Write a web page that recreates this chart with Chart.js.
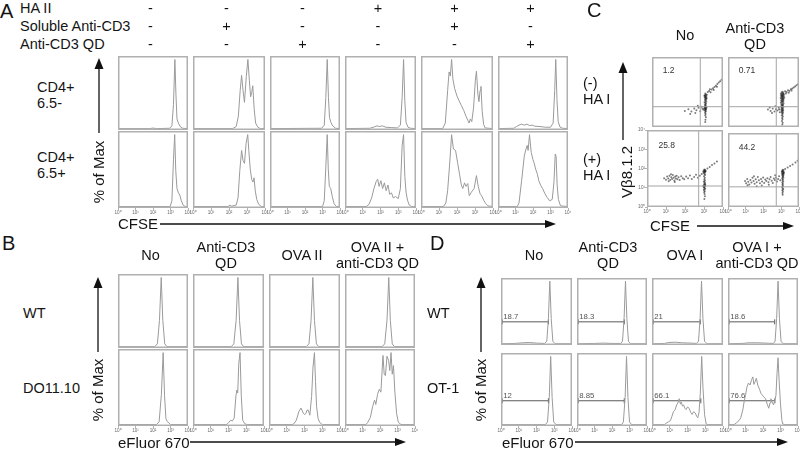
<!DOCTYPE html>
<html><head><meta charset="utf-8">
<script src="https://cdn.jsdelivr.net/npm/chart.js"></script>
<style>
html,body{margin:0;padding:0;background:#fff}
#fig{position:relative;width:800px;height:449px;overflow:hidden;font-family:"Liberation Sans",Arial,Helvetica,sans-serif;color:#141414}
.t{position:absolute;white-space:nowrap;font-size:14.5px;line-height:16px;transform:translate(-50%,-50%);text-align:center}
.l{transform:translate(0,-50%);text-align:left}
.big{font-size:20px;line-height:20px}
.ax{font-size:15px}
.rot{transform:translate(-50%,-50%) rotate(-90deg)}
canvas{position:absolute}
svg{position:absolute;left:0;top:0}
</style></head><body><div id="fig"></div>
<script>
// ---------------- DATA (x in log decades, y in % of max) ----------------
const decadeTicks = ['10\u2070','10\u00b9','10\u00b2','10\u00b3','10\u2074'];

// Panel A
const A_headers = ['HA II','Soluble Anti-CD3','Anti-CD3 QD'];
const A_signs = [
  ['-','-','-','+','+','+'],
  ['-','+','-','-','+','-'],
  ['-','-','+','-','-','+']
];
const A_rows = ['CD4+\n6.5-','CD4+\n6.5+'];
const A_cd4_65neg = [
  [[0,0],[1.8,0],[2.0,0.8],[2.2,0],[2.95,0.5],[3.08,4],[3.17,35],[3.25,100],[3.31,50],[3.37,14],[3.45,8],[3.55,3],[3.7,0.5],[4,0]],
  [[0,0],[2.2,0],[2.4,3],[2.52,18],[2.62,55],[2.7,77],[2.78,55],[2.86,38],[2.96,75],[3.05,100],[3.13,70],[3.2,46],[3.26,52],[3.32,62],[3.4,28],[3.48,8],[3.6,2],[3.75,0],[4,0]],
  [[0,0],[2.95,0.5],[3.1,5],[3.19,45],[3.27,100],[3.34,45],[3.4,16],[3.48,9],[3.58,4],[3.75,0.5],[4,0]],
  [[0,0],[1.4,0.5],[1.65,2.5],[1.8,4],[1.95,3],[2.1,4],[2.3,2],[2.6,1.5],[2.95,1],[3.12,5],[3.22,45],[3.3,100],[3.37,40],[3.44,9],[3.55,2],[3.7,0.5],[4,0]],
  [[0,0],[1.2,0],[1.35,8],[1.48,55],[1.56,82],[1.63,76],[1.7,100],[1.77,72],[1.87,58],[2.0,47],[2.12,40],[2.25,33],[2.38,26],[2.5,18],[2.6,12],[2.67,8],[2.74,14],[2.82,10],[2.92,30],[3.02,70],[3.08,83],[3.16,50],[3.22,39],[3.28,55],[3.33,61],[3.4,25],[3.48,6],[3.56,1],[4,0]],
  [[0,0],[0.9,0.5],[1.05,3],[1.2,5],[1.35,6.5],[1.5,5],[1.65,6.5],[1.8,4.5],[1.95,5],[2.1,3.5],[2.4,3],[2.7,2],[3.0,2],[3.15,8],[3.24,55],[3.3,100],[3.37,42],[3.44,10],[3.55,2],[3.7,0.5],[4,0]]
];
const A_cd4_65pos = [
  [[0,0],[2.98,0],[3.08,8],[3.17,65],[3.24,100],[3.3,50],[3.37,25],[3.45,19],[3.53,16],[3.62,8],[3.72,2],[3.85,0],[4,0]],
  [[0,0],[1.95,0],[2.05,2],[2.15,0.5],[2.4,2],[2.5,12],[2.6,50],[2.7,78],[2.78,64],[2.86,60],[2.95,88],[3.04,100],[3.1,78],[3.18,52],[3.26,38],[3.33,34],[3.39,40],[3.46,22],[3.54,10],[3.65,3],[3.8,0],[4,0]],
  [[0,0],[3.0,0],[3.1,8],[3.19,55],[3.27,100],[3.33,52],[3.39,28],[3.47,25],[3.56,14],[3.66,4],[3.8,0],[4,0]],
  [[0,0],[1.2,0],[1.35,3],[1.5,12],[1.63,25],[1.76,35],[1.84,38],[1.92,28],[2.02,36],[2.12,25],[2.22,33],[2.32,22],[2.42,30],[2.52,17],[2.62,19],[2.72,12],[2.85,14],[3.0,11],[3.12,25],[3.22,85],[3.3,100],[3.37,42],[3.44,20],[3.52,9],[3.62,2],[3.75,0],[4,0]],
  [[0,0],[1.25,0],[1.38,5],[1.48,22],[1.6,62],[1.7,100],[1.8,80],[1.92,78],[2.04,60],[2.14,45],[2.24,30],[2.32,25],[2.42,33],[2.5,28],[2.6,32],[2.68,15],[2.8,20],[2.95,25],[3.08,43],[3.18,28],[3.28,18],[3.37,15],[3.5,8],[3.6,4],[3.72,1],[4,0]],
  [[0,0],[1.1,0],[1.2,5],[1.35,36],[1.5,70],[1.6,80],[1.67,85],[1.72,78],[1.8,100],[1.9,75],[2.0,65],[2.06,61],[2.15,52],[2.25,45],[2.33,36],[2.45,29],[2.55,25],[2.68,18],[2.8,13],[2.95,8],[3.1,10],[3.2,35],[3.27,73],[3.32,70],[3.38,30],[3.45,10],[3.57,1],[4,0]]
];

// Panel B
const B_cols = ['No','Anti-CD3\nQD','OVA II','OVA II +\nanti-CD3 QD'];
const B_rows = ['WT','DO11.10'];
const B_wt = [
  [[0,0],[2.1,0],[2.25,4],[2.37,38],[2.47,100],[2.56,38],[2.67,4],[2.8,0],[4,0]],
  [[0,0],[2.15,0],[2.3,4],[2.43,38],[2.53,100],[2.62,38],[2.73,4],[2.85,0],[4,0]],
  [[0,0],[2.1,0],[2.25,4],[2.37,38],[2.47,100],[2.56,38],[2.67,4],[2.8,0],[4,0]],
  [[0,0],[2.12,0],[2.27,4],[2.4,38],[2.5,100],[2.59,38],[2.7,4],[2.82,0],[4,0]]
];
const B_do1110 = [
  [[0,0],[2.2,0],[2.35,4],[2.48,42],[2.58,100],[2.66,40],[2.74,8],[2.82,4],[2.92,2],[3.0,0],[4,0]],
  [[0,0],[1.9,0],[2.02,3],[2.12,6],[2.22,5],[2.32,9],[2.42,40],[2.47,48],[2.52,44],[2.58,85],[2.65,100],[2.72,40],[2.8,6],[2.92,1],[3.05,0],[4,0]],
  [[0,0],[1.3,0],[1.4,1],[1.54,6],[1.68,18],[1.8,23],[1.93,16],[2.0,14],[2.07,15],[2.14,20],[2.21,20],[2.3,13],[2.4,39],[2.48,80],[2.56,100],[2.62,60],[2.68,25],[2.77,8],[2.86,3],[3.0,0],[4,0]],
  [[0,0],[1.2,0],[1.3,3],[1.45,10],[1.58,25],[1.69,34],[1.76,28],[1.86,42],[1.96,49],[2.05,45],[2.17,96],[2.24,70],[2.31,68],[2.4,95],[2.49,89],[2.56,75],[2.63,100],[2.7,70],[2.77,82],[2.85,45],[2.95,15],[3.05,3],[3.2,0],[4,0]]
];

// Panel C (dot plots: x = CFSE decades, y = Vb8.1.2 decades)
const C_cols = ['No','Anti-CD3\nQD'];
const C_rows = ['(-)\nHA I','(+)\nHA I'];
const C_noHA_no = [[3.00,1.92],[3.04,1.86],[2.98,1.82],[3.02,1.78],[3.06,1.74],[2.97,1.70],[3.03,1.66],[3.00,1.62],[3.05,1.58],[2.99,1.54],[3.02,1.50],[3.06,1.46],[2.96,1.42],[3.01,1.38],[3.04,1.33],[2.98,1.28],[3.02,1.24],[3.00,1.20],[3.05,1.16],[2.97,1.12],[3.02,1.08],[3.00,1.04],[3.04,1.00],[2.98,0.96],[3.01,0.92],[3.03,0.88],[2.99,0.82],[3.02,0.74],[3.00,0.66],[3.04,0.56],[3.01,0.42],[3.00,0.28],[3.08,1.64],[2.94,1.06],[3.07,1.10],[2.95,1.78],[3.09,1.84],[3.01,1.72],[3.03,1.02],[2.99,1.16],
  [3.14,2.00],[3.22,2.06],[3.30,1.98],[3.36,2.14],[3.44,2.22],[3.52,2.28],[3.60,2.36],[3.68,2.46],[3.76,2.55],[3.84,2.62],[3.92,2.70],[3.48,2.12],[3.66,2.30],[3.26,2.16],
  [1.85,0.92],[2.05,1.02],[2.22,0.88],[2.38,1.06],[2.50,0.96],[2.62,1.10],[2.72,0.90],[2.84,1.04],[2.58,1.22],[2.44,0.80],[2.80,1.16],[2.15,0.74],[2.90,0.98]];
const C_noHA_qd = [[3.08,2.02],[3.02,1.98],[3.12,1.95],[3.05,1.92],[2.98,1.90],[3.10,1.88],[3.15,1.86],[3.03,1.84],[3.08,1.82],[2.99,1.80],[3.13,1.78],[3.06,1.76],[3.01,1.74],[3.10,1.72],[3.17,1.70],[3.04,1.68],[2.97,1.66],[3.09,1.64],[3.14,1.62],[3.02,1.60],[3.07,1.58],[3.11,1.55],[2.99,1.52],[3.05,1.50],[3.12,1.47],[3.03,1.44],[3.08,1.41],[2.98,1.38],[3.13,1.35],[3.06,1.32],[3.01,1.29],[3.10,1.26],[3.04,1.23],[3.08,1.20],[2.99,1.17],[3.12,1.14],[3.05,1.11],[3.02,1.08],[3.09,1.05],[3.06,1.02],[3.00,0.99],[3.11,0.96],[3.04,0.93],[3.08,0.90],[3.02,0.86],[3.10,0.82],[3.05,0.78],[3.07,0.72],[3.03,0.66],[3.09,0.60],[3.05,0.52],[3.07,0.44],[3.04,0.34],[3.08,0.24],[3.06,0.14],
  [3.22,2.04],[3.30,2.00],[3.38,2.10],[3.46,2.06],[3.54,2.16],[3.62,2.20],[3.70,2.26],[3.78,2.32],[3.86,2.38],[3.94,2.44],[3.42,1.96],[3.58,2.08],[3.26,1.92],
  [2.25,1.00],[2.40,0.92],[2.52,1.06],[2.62,0.88],[2.70,1.02],[2.78,0.94],[2.86,1.10],[2.92,0.84],[2.66,1.18],[2.48,0.80],[2.88,1.00],[2.35,1.12]];
const C_HA_no = [[3.02,1.95],[3.06,1.92],[2.99,1.89],[3.04,1.86],[3.08,1.84],[3.01,1.82],[3.05,1.79],[2.98,1.76],[3.03,1.72],[3.06,1.66],[3.00,1.60],[3.04,1.52],[3.02,1.44],[3.05,1.38],[2.99,1.32],[3.03,1.28],[3.06,1.24],[3.01,1.20],[3.04,1.16],[2.98,1.12],[3.05,1.08],[3.02,1.04],[3.00,1.00],[3.06,0.96],[3.03,0.92],[2.99,0.88],[3.04,0.82],[3.01,0.76],[3.03,0.68],[3.05,0.56],[3.02,0.42],[3.07,1.14],[2.97,1.06],[3.08,1.88],[2.96,1.84],
  [0.90,1.50],[1.00,1.42],[1.06,1.58],[1.12,1.48],[1.18,1.62],[1.22,1.40],[1.28,1.54],[1.32,1.46],[1.36,1.66],[1.40,1.52],[1.44,1.38],[1.48,1.58],[1.52,1.48],[1.56,1.62],[1.60,1.44],[1.66,1.54],[1.72,1.40],[1.80,1.60],[1.88,1.50],[1.96,1.44],[2.06,1.58],[2.16,1.50],[2.26,1.64],[2.36,1.46],[2.48,1.56],[2.58,1.68],[2.68,1.52],[2.78,1.62],[2.88,1.72],[1.26,1.70],[1.46,1.30],[1.14,1.34],
  [3.18,2.00],[3.30,2.08],[3.42,2.18],[3.55,2.26],[3.68,2.36]];
const C_HA_qd = [[3.08,2.02],[3.12,1.98],[3.05,1.95],[3.10,1.92],[3.14,1.89],[3.07,1.86],[3.11,1.83],[3.04,1.80],[3.09,1.77],[3.13,1.74],[3.06,1.71],[3.10,1.68],[3.08,1.64],[3.12,1.60],[3.05,1.56],[3.09,1.50],[3.07,1.44],[3.11,1.38],[3.06,1.32],[3.09,1.26],[3.07,1.20],[3.10,1.14],[3.05,1.08],[3.08,1.02],[3.11,0.96],[3.06,0.90],[3.09,0.84],[3.07,0.76],[3.08,0.66],[3.03,1.90],[3.15,1.84],
  [0.96,1.40],[1.02,1.28],[1.08,1.52],[1.14,1.36],[1.20,1.22],[1.26,1.46],[1.32,1.32],[1.38,1.58],[1.44,1.40],[1.50,1.26],[1.56,1.50],[1.62,1.34],[1.68,1.62],[1.74,1.44],[1.80,1.28],[1.86,1.52],[1.92,1.38],[1.98,1.60],[2.04,1.30],[2.10,1.48],[2.16,1.40],[2.22,1.56],[2.28,1.34],[2.34,1.50],[2.40,1.62],[2.46,1.42],[2.52,1.30],[2.58,1.54],[2.64,1.46],[2.70,1.60],[2.76,1.38],[2.82,1.52],[2.88,1.66],[2.94,1.44],[1.10,1.18],[1.46,1.66],[1.90,1.16],[2.30,1.20],[2.66,1.72],[1.62,1.12],
  [3.22,2.06],[3.36,2.14],[3.50,2.22],[3.64,2.30],[3.80,2.40],[3.92,2.50]];
const C_quadX = [2.72, 2.72, 2.72, 2.72];
const C_quadY = [1.16, 1.16, 1.09, 1.09];
const C_quadPct = ['1.2','0.71','25.8','44.2'];

// Panel D
const D_cols = ['No','Anti-CD3\nQD','OVA I','OVA I +\nanti-CD3 QD'];
const D_rows = ['WT','OT-1'];
const D_wt = [
  [[0,0],[0.8,0.5],[1.2,1.5],[1.6,2],[2.0,1],[2.45,0.5],[2.58,4],[2.67,40],[2.75,100],[2.83,40],[2.92,4],[3.05,0],[4,0]],
  [[0,0],[1.0,0.5],[1.5,1],[2.0,0.5],[2.5,0.5],[2.6,4],[2.69,40],[2.77,100],[2.85,40],[2.94,4],[3.07,0],[4,0]],
  [[0,0],[0.7,0.5],[0.95,2],[1.3,2.5],[1.7,1.5],[2.2,1],[2.5,0.5],[2.62,4],[2.71,40],[2.79,100],[2.87,40],[2.96,4],[3.1,0],[4,0]],
  [[0,0],[0.8,0.5],[1.2,1.5],[1.7,1.5],[2.3,0.8],[2.6,0.5],[2.69,4],[2.78,40],[2.86,100],[2.94,40],[3.03,4],[3.15,0],[4,0]]
];
const D_ot1 = [
  [[0,0],[2.5,0],[2.62,4],[2.72,40],[2.8,100],[2.88,40],[2.97,4],[3.1,0],[4,0]],
  [[0,0],[2.55,0],[2.65,4],[2.75,40],[2.83,100],[2.91,40],[3.0,4],[3.12,0],[4,0]],
  [[0,0],[0.7,0],[0.8,2],[0.92,4],[1.04,6],[1.12,12],[1.21,19],[1.3,22],[1.39,29],[1.46,32],[1.53,38],[1.6,30],[1.65,33],[1.72,27],[1.78,29],[1.85,24],[1.92,22],[2.0,26],[2.09,24],[2.18,18],[2.26,15],[2.35,19],[2.44,17],[2.52,12],[2.58,10],[2.65,18],[2.72,45],[2.8,100],[2.87,55],[2.96,15],[3.05,1],[3.15,0],[4,0]],
  [[0,0],[0.35,0],[0.5,3],[0.63,6],[0.73,10],[0.85,22],[0.93,35],[1.0,43],[1.08,55],[1.17,61],[1.26,58],[1.35,66],[1.42,70],[1.48,59],[1.55,63],[1.62,68],[1.7,58],[1.8,52],[1.88,46],[1.97,43],[2.06,40],[2.15,38],[2.24,30],[2.33,24],[2.4,32],[2.45,38],[2.52,33],[2.6,29],[2.68,36],[2.74,43],[2.8,75],[2.86,98],[2.92,65],[3.0,30],[3.08,6],[3.13,1],[3.25,0],[4,0]]
];
const D_gatePct = [['18.7','18.3','21','18.6'],['12','8.85','66.1','76.6']];
const D_gateStart = 0.07;
const D_gateEnd = [[2.67,2.70,2.72,2.67],[2.67,2.70,2.75,2.68]];
const D_gateLevel = 35;

// ---------------- LAYOUT ----------------
const LAYOUT = {
  A:{xs:[113,188,265,340,416,493,568], ys:[56,131,208]},
  B:{xs:[113,188,264,340,415], ys:[274,349,426]},
  C:{xs:[647,723,799], ys:[54,130,207]},
  D:{xs:[496,572,647,723,798], ys:[274,349,426]}
};
const FONT = '"Liberation Sans", Arial, Helvetica, sans-serif';
const fig = document.getElementById('fig');

function addText(txt, x, y, cls){
  const d = document.createElement('div');
  d.className = 't ' + (cls||'');
  d.innerHTML = txt.split('\n').join('<br>');
  d.style.left = x + 'px'; d.style.top = y + 'px';
  fig.appendChild(d);
}

const framePlugin = {
  id:'frame',
  afterDatasetsDraw(chart){
    const {ctx, chartArea:a} = chart;
    ctx.save();
    ctx.strokeStyle = '#b0b0b0'; ctx.lineWidth = 1.5;
    ctx.strokeRect(a.left+0.75, a.top+0.75, a.right-a.left-1.5, a.bottom-a.top-1.5);
    ctx.restore();
  }
};
const notesPlugin = {
  id:'notes',
  afterDatasetsDraw(chart, args, opts){
    const items = opts.items || [];
    const {ctx} = chart; const sx = chart.scales.x, sy = chart.scales.y;
    ctx.save();
    ctx.fillStyle = opts.color || '#444';
    ctx.font = (opts.size || 8) + 'px ' + FONT;
    ctx.textBaseline = 'alphabetic';
    items.forEach(it => ctx.fillText(it.text, sx.getPixelForValue(it.x) + (it.dx||0), sy.getPixelForValue(it.y) + (it.dy||0)));
    ctx.restore();
  }
};

function makeChart(o){
  const padL = o.yTicks ? 10 : 5, padR = 5, padT = o.yTicks ? 4 : 1, padB = o.xTicks ? 10 : 1;
  const W = o.w + padL + padR, H = o.h + padT + padB;
  const cv = document.createElement('canvas');
  cv.width = W; cv.height = H;
  cv.style.left = (o.x - padL) + 'px'; cv.style.top = (o.y - padT) + 'px';
  cv.style.width = W + 'px'; cv.style.height = H + 'px';
  fig.appendChild(cv);
  const tickFont = {size:4.6, family:FONT};
  const gridOpt = {display:true, drawOnChartArea:false, drawTicks:true, tickLength:2, color:'#a0a0a0', lineWidth:0.8};
  new Chart(cv, {
    type: o.type || 'line',
    data: {datasets: o.datasets},
    options: {
      responsive:false, animation:false, events:[],
      layout:{padding:{left:o.yTicks?0:padL, right:padR, top:padT, bottom:o.xTicks?0:padB}},
      plugins:{legend:{display:false}, tooltip:{enabled:false},
        notes:{items:o.notes||[], size:o.noteSize, color:o.noteColor}},
      scales:{
        x:{type:'linear', min:0, max:4, display:!!o.xTicks, border:{display:false}, grid:gridOpt,
           ticks:{stepSize:1, autoSkip:false, maxRotation:0, minRotation:0, padding:0, font:tickFont, color:'#666', callback:v=>decadeTicks[v]},
           afterFit:a=>{a.height = padB;}},
        y:{type:'linear', min:o.ymin, max:o.ymax, display:!!o.yTicks, border:{display:false}, grid:gridOpt,
           ticks:{stepSize:1, autoSkip:false, padding:0, font:tickFont, color:'#666', callback:v=>decadeTicks[v]},
           afterFit:a=>{a.width = padL;}}
      }
    },
    plugins:[framePlugin, notesPlugin]
  });
}

function histSet(trace){
  return {data:trace.map(p=>({x:p[0], y:p[1]})), borderColor:'#9a9a9a', borderWidth:1, pointRadius:0, tension:0, fill:false};
}
function histGrid(L, rowsData, extra){
  rowsData.forEach((row, r) => row.forEach((trace, c) => {
    const ds = [histSet(trace)];
    let notes = [];
    if (extra) { const e = extra(r, c); ds.push(...e.datasets); notes = e.notes; }
    makeChart({x:L.xs[c], y:L.ys[r], w:L.xs[c+1]-L.xs[c], h:L.ys[r+1]-L.ys[r],
      datasets:ds, ymin:-2, ymax:105, xTicks: r === rowsData.length-1, notes, noteSize:7.8, noteColor:'#555'});
  }));
}

// ---- Panel A ----
histGrid(LAYOUT.A, [A_cd4_65neg, A_cd4_65pos]);
addText('A', 0, 11, 'l big');
const A_headY = [8, 26, 44];
A_headers.forEach((h, i) => {
  addText(h, 20, A_headY[i], 'l');
  A_signs[i].forEach((s, c) => addText(s, (LAYOUT.A.xs[c]+LAYOUT.A.xs[c+1])/2, A_headY[i]));
});
addText(A_rows[0], 37, 95, 'l');
addText(A_rows[1], 37, 165, 'l');
addText('% of Max', 99, 172, 'rot ax');
addText('CFSE', 118, 224, 'l ax');

// ---- Panel B ----
histGrid(LAYOUT.B, [B_wt, B_do1110]);
addText('B', 2, 243, 'l big');
B_cols.forEach((h, c) => addText(h, (LAYOUT.B.xs[c]+LAYOUT.B.xs[c+1])/2, 255));
addText(B_rows[0], 23, 313, 'l');
addText(B_rows[1], 23, 388, 'l');
addText('% of Max', 98, 390, 'rot ax');
addText('eFluor 670', 118, 443, 'l ax');

// ---- Panel C ----
const C_sets = [[C_noHA_no, C_noHA_qd],[C_HA_no, C_HA_qd]];
C_sets.forEach((row, r) => row.forEach((pts, c) => {
  const k = r*2 + c, L = LAYOUT.C;
  makeChart({type:'scatter', x:L.xs[c], y:L.ys[r], w:L.xs[c+1]-L.xs[c], h:L.ys[r+1]-L.ys[r],
    ymin:0, ymax:4, xTicks: r === 1, yTicks: r === 1 && c === 0,
    notes:[{x:0.6, y:3.08, text:C_quadPct[k]}], noteSize:8.5, noteColor:'#333',
    datasets:[
      {type:'line', data:[{x:C_quadX[k], y:0},{x:C_quadX[k], y:4}], borderColor:'#a5a5a5', borderWidth:1, pointRadius:0},
      {type:'line', data:[{x:0, y:C_quadY[k]},{x:4, y:C_quadY[k]}], borderColor:'#a5a5a5', borderWidth:1, pointRadius:0},
      {data:pts.map(p=>({x:p[0], y:p[1]})), pointRadius:1.0, backgroundColor:'rgba(15,15,15,0.55)', borderWidth:0}
    ]});
}));
addText('C', 587, 10, 'l big');
C_cols.forEach((h, c) => addText(h, c === 0 ? 685 : 755, c === 0 ? 35 : 36));
addText(C_rows[0], 583, 91, 'l');
addText(C_rows[1], 583, 167, 'l');
addText('V\u03b28.1.2', 627, 172, 'rot ax');
addText('CFSE', 650, 226, 'l ax');

// ---- Panel D ----
histGrid(LAYOUT.D, [D_wt, D_ot1], (r, c) => ({
  datasets:[{data:[{x:D_gateStart, y:D_gateLevel},{x:D_gateEnd[r][c], y:D_gateLevel}], borderColor:'#5a5a5a', borderWidth:1,
    pointStyle:'line', rotation:90, pointRadius:2.5, pointBorderColor:'#5a5a5a', pointBorderWidth:1, tension:0}],
  notes:[{x:D_gateStart, y:D_gateLevel, dx:1, dy:-2.5, text:D_gatePct[r][c]}]
}));
addText('D', 430, 243, 'l big');
const D_centers = [534, 608, 685, 757];
D_cols.forEach((h, c) => addText(h, D_centers[c], 255));
addText(D_rows[0], 427, 313, 'l');
addText(D_rows[1], 427, 388, 'l');
addText('% of Max', 481, 390, 'rot ax');
addText('eFluor 670', 502, 443, 'l ax');

// ---- axis arrows (decoration) ----
const NS = 'http://www.w3.org/2000/svg';
const svg = document.createElementNS(NS, 'svg');
svg.setAttribute('width', 800); svg.setAttribute('height', 449);
fig.appendChild(svg);
function vArrow(x, tip, end){
  const l = document.createElementNS(NS,'line');
  l.setAttribute('x1',x); l.setAttribute('x2',x); l.setAttribute('y1',tip+8); l.setAttribute('y2',end);
  l.setAttribute('stroke','#111'); l.setAttribute('stroke-width','1.3'); svg.appendChild(l);
  const p = document.createElementNS(NS,'polygon');
  p.setAttribute('points', `${x},${tip} ${x-4.5},${tip+11} ${x+4.5},${tip+11}`); p.setAttribute('fill','#111'); svg.appendChild(p);
}
function hArrow(y, start, tip){
  const l = document.createElementNS(NS,'line');
  l.setAttribute('x1',start); l.setAttribute('x2',tip-8); l.setAttribute('y1',y); l.setAttribute('y2',y);
  l.setAttribute('stroke','#111'); l.setAttribute('stroke-width','1.3'); svg.appendChild(l);
  const p = document.createElementNS(NS,'polygon');
  p.setAttribute('points', `${tip},${y} ${tip-11},${y-4} ${tip-11},${y+4}`); p.setAttribute('fill','#111'); svg.appendChild(p);
}
vArrow(99, 58, 133); hArrow(224, 160, 556);
vArrow(98, 277, 352); hArrow(442, 190, 406);
vArrow(481, 277, 352); hArrow(442, 575, 788);
vArrow(623, 62, 140); hArrow(226, 697, 794);
</script></body></html>
